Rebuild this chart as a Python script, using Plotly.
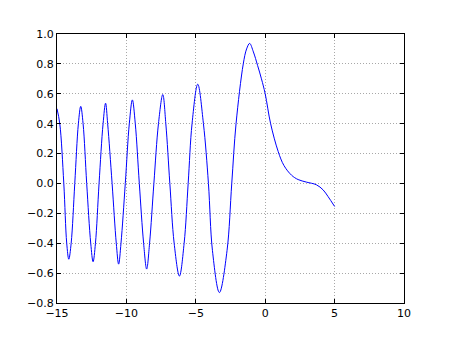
import plotly.graph_objects as go

x_vals = [-15.0, -14.80, -14.51, -14.30, -14.15, -13.98, -13.72, -13.46, -13.29,
          -13.12, -12.86, -12.57, -12.40, -12.23, -11.97, -11.68, -11.50,
          -11.35, -11.03, -10.73, -10.56, -10.39, -10.08, -9.79, -9.57,
          -9.36, -9.07, -8.76, -8.54, -8.33, -8.02, -7.69, -7.38,
          -7.16, -6.87, -6.56, -6.18, -5.84, -5.55, -5.27,
          -4.86, -4.45, -4.09, -3.80, -3.30, -2.75,
          -2.41, -2.10, -1.58, -1.34, -1.12, -0.85, -0.55, -0.27, 0.0, 0.39,
          0.93, 1.35, 1.90, 2.37, 2.97, 3.69, 4.17, 4.53, 5.0]
y_vals = [0.50, 0.40, 0.0, -0.40, -0.507, -0.40, 0.0, 0.40, 0.516,
          0.40, 0.0, -0.40, -0.524, -0.40, 0.0, 0.40, 0.537,
          0.40, 0.0, -0.40, -0.54, -0.40, 0.0, 0.40, 0.559,
          0.40, 0.0, -0.40, -0.573, -0.40, 0.0, 0.40, 0.595,
          0.40, 0.0, -0.40, -0.62, -0.40, 0.0, 0.40,
          0.664, 0.40, 0.0, -0.45, -0.73, -0.45,
          0.0, 0.40, 0.80, 0.90, 0.937, 0.88, 0.79, 0.70, 0.60, 0.40,
          0.215, 0.12, 0.055, 0.026, 0.009, -0.009, -0.043, -0.088, -0.154]

x_ticks = [-15, -10, -5, 0, 5, 10]
y_ticks = [-0.8, -0.6, -0.4, -0.2, 0.0, 0.2, 0.4, 0.6, 0.8, 1.0]

fig = go.Figure()
fig.add_trace(go.Scatter(x=x_vals, y=y_vals, mode="lines",
                         line=dict(color="#0000ff", width=1, shape="spline", smoothing=1.0),
                         showlegend=False, hoverinfo="skip"))

axis_common = dict(showline=True, linecolor="black", linewidth=1, mirror="ticks",
                   ticks="inside", ticklen=4, tickcolor="black",
                   showgrid=True, gridcolor="#a8a8a8", griddash="1px,2px", gridwidth=1,
                   zeroline=False, tickfont=dict(family="DejaVu Sans", size=11, color="black"))

fig.update_xaxes(range=[-15, 10], tickvals=x_ticks, **axis_common)
fig.update_yaxes(range=[-0.8, 1.0], tickvals=y_ticks, tickformat=".1f", **axis_common)

fig.update_layout(width=449, height=337, margin=dict(l=56.5, r=44.5, t=34, b=33.7),
                  plot_bgcolor="white", paper_bgcolor="white")

fig.write_html("out.html")
